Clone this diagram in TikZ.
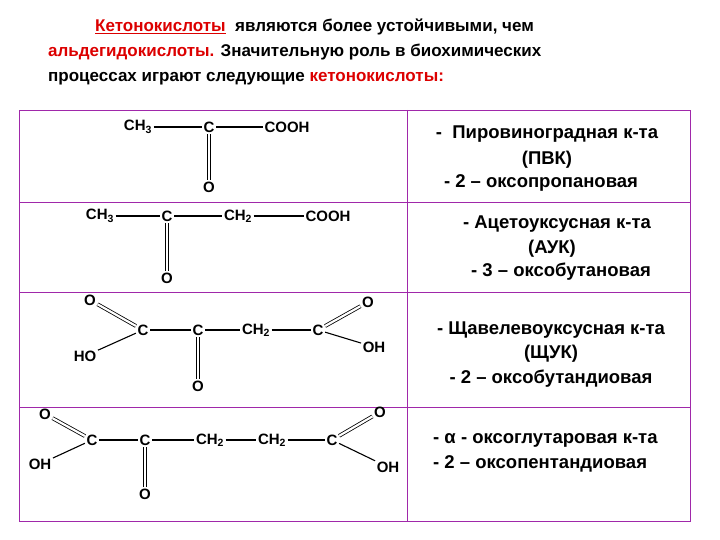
\documentclass[tikz,border=0pt]{standalone}
\usepackage{fontspec}
\setmainfont{Liberation Sans}
\begin{document}
\begin{tikzpicture}[x=1pt,y=-1pt,
 hd/.style={anchor=base west,font=\bfseries\fontsize{17}{19}\selectfont,inner sep=0pt},
 atm/.style={font=\bfseries\fontsize{15}{17}\selectfont,inner sep=1.5pt},
 nm/.style={font=\bfseries\fontsize{18.5}{20}\selectfont,inner sep=0pt},
 bd/.style={line width=1.1pt},
 db/.style={double,double distance=2.2pt,line width=0.8pt},
 grid/.style={draw={rgb,255:red,160;green,40;blue,170},line width=0.6pt}]
\useasboundingbox (0,0) rectangle (720,540);
\definecolor{rd}{RGB}{220,0,0}
% header
\node[hd] (h1) at (95,32) {\textcolor{rd}{\underline{Кетонокислоты}}\ \ являются более устойчивыми, чем};
\node[hd] (h2) at (48,57) {\textcolor{rd}{альдегидокислоты.} Значительную роль в биохимических};
\node[hd] (h3) at (48,82) {процессах играют следующие \textcolor{rd}{кетонокислоты:}};
% table
\draw[grid] (19,110) rectangle (690,521);
\draw[grid] (407,110) -- (407,521);
\foreach \y in {202,292,407} \draw[grid] (19,\y) -- (690,\y);
% row1
\node[atm] (a1) at (138,127) {CH\textsubscript{3}};
\node[atm] (a2) at (209,127) {C};
\node[atm] (a3) at (287,127) {COOH};
\node[atm] (a4) at (209,187) {O};
\draw[bd] (a1) -- (a2); \draw[bd] (a2) -- (a3); \draw[db] (a2) -- (a4);
\node[nm] (t11) at (547,134) {- \ Пировиноградная к-та};
\node[nm] (t12) at (547,160) {(ПВК)};
\node[nm] (t13) at (541,183) {- 2 – оксопропановая};
% row2
\node[atm] (b1) at (100,216) {CH\textsubscript{3}};
\node[atm] (b2) at (167,216) {C};
\node[atm] (b3) at (238,216) {CH\textsubscript{2}};
\node[atm] (b4) at (328,216) {COOH};
\node[atm] (b5) at (167,278) {O};
\draw[bd] (b1) -- (b2); \draw[bd] (b2) -- (b3); \draw[bd] (b3) -- (b4); \draw[db] (b2) -- (b5);
\node[nm] (t21) at (557,224) {- Ацетоуксусная к-та};
\node[nm] (t22) at (552,249) {(АУК)};
\node[nm] (t23) at (561,272) {- 3 – оксобутановая};
% row3
\node[atm] (c1) at (90,300) {O};
\node[atm] (c2) at (143,330) {C};
\node[atm] (c3) at (198,330) {C};
\node[atm] (c4) at (256,330) {CH\textsubscript{2}};
\node[atm] (c5) at (318,330) {C};
\node[atm] (c6) at (368,302) {O};
\node[atm] (c7) at (374,347) {OH};
\node[atm] (c8) at (85,356) {HO};
\node[atm] (c9) at (198,386) {O};
\draw[db] (c1) -- (c2); \draw[bd] (c8) -- (c2); \draw[bd] (c2) -- (c3); \draw[bd] (c3) -- (c4);
\draw[bd] (c4) -- (c5); \draw[db] (c5) -- (c6); \draw[bd] (c5) -- (c7); \draw[db] (c3) -- (c9);
\node[nm] (t31) at (551,330) {- Щавелевоуксусная к-та};
\node[nm] (t32) at (551,354) {(ЩУК)};
\node[nm] (t33) at (551,379) {- 2 – оксобутандиовая};
% row4
\node[atm] (d1) at (45,414) {O};
\node[atm] (d2) at (92,440) {C};
\node[atm] (d3) at (145,440) {C};
\node[atm] (d4) at (210,440) {CH\textsubscript{2}};
\node[atm] (d5) at (272,440) {CH\textsubscript{2}};
\node[atm] (d6) at (332,440) {C};
\node[atm] (d7) at (380,412) {O};
\node[atm] (d8) at (40,464) {OH};
\node[atm] (d9) at (388,467) {OH};
\node[atm] (d10) at (145,494) {O};
\draw[db] (d1) -- (d2); \draw[bd] (d8) -- (d2); \draw[bd] (d2) -- (d3); \draw[bd] (d3) -- (d4);
\draw[bd] (d4) -- (d5); \draw[bd] (d5) -- (d6); \draw[db] (d6) -- (d7); \draw[bd] (d6) -- (d9); \draw[db] (d3) -- (d10);
\node[nm,anchor=west] (t41) at (433,440) {- α - оксоглутаровая к-та};
\node[nm,anchor=west] (t42) at (433,464) {- 2 – оксопентандиовая};
\end{tikzpicture}
\end{document}
